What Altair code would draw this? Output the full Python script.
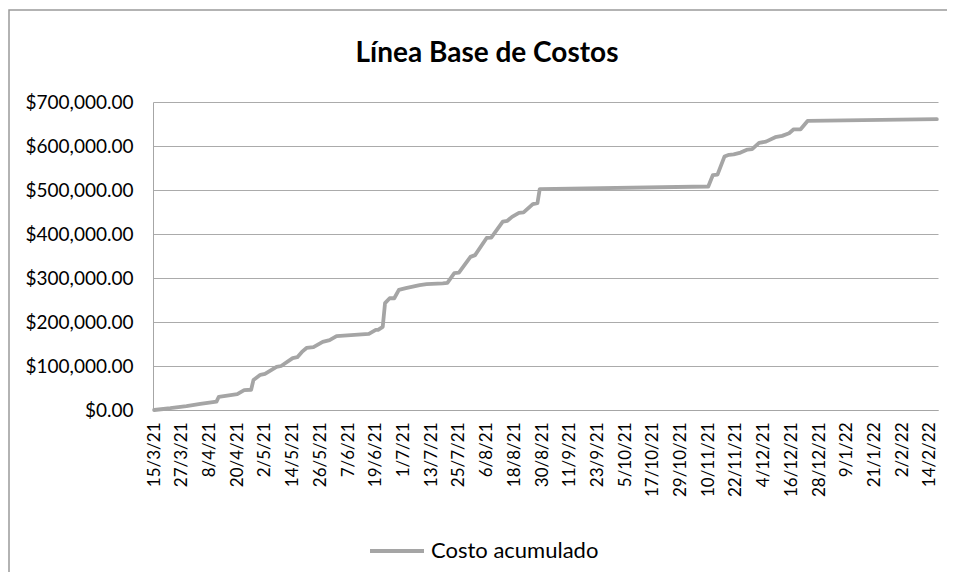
import altair as alt
import pandas as pd

# ---- data ----
fechas = [
    "2021-03-15", "2021-03-22", "2021-03-29", "2021-04-04", "2021-04-11", "2021-04-12",
    "2021-04-20", "2021-04-23", "2021-04-26", "2021-04-27", "2021-04-30", "2021-05-02",
    "2021-05-07", "2021-05-09", "2021-05-14", "2021-05-16", "2021-05-18", "2021-05-20",
    "2021-05-23", "2021-05-27", "2021-05-30", "2021-06-02", "2021-06-16", "2021-06-19",
    "2021-06-20", "2021-06-22", "2021-06-23", "2021-06-25", "2021-06-27", "2021-06-29",
    "2021-07-02", "2021-07-08", "2021-07-11", "2021-07-18", "2021-07-20", "2021-07-23",
    "2021-07-25", "2021-07-30", "2021-08-01", "2021-08-06", "2021-08-08", "2021-08-13",
    "2021-08-15", "2021-08-17", "2021-08-20", "2021-08-22", "2021-08-26", "2021-08-28",
    "2021-08-29", "2021-11-10", "2021-11-12", "2021-11-14", "2021-11-17", "2021-11-19",
    "2021-11-21", "2021-11-24", "2021-11-27", "2021-11-29", "2021-12-02", "2021-12-05",
    "2021-12-09", "2021-12-12", "2021-12-15", "2021-12-17", "2021-12-20", "2021-12-23",
    "2022-02-17",
]
costo = [
    0, 4000, 9000, 14000, 19000, 30000,
    36000, 45000, 46000, 68000, 80000, 82000,
    98000, 100000, 118000, 120000, 132000, 141000,
    143000, 155000, 159000, 168000, 173000, 182000,
    182000, 189000, 243000, 254000, 254000, 273000,
    277000, 284000, 286000, 288000, 289000, 311000,
    312000, 348000, 352000, 391000, 392000, 428000,
    430000, 439000, 448000, 449000, 468000, 470000,
    502000, 508000, 534000, 535000, 576000, 580000,
    581000, 585000, 592000, 593000, 607000, 610000,
    620000, 623000, 629000, 638000, 638000, 657000,
    661000,
]
serie = "Costo acumulado"
titulo = "Línea Base de Costos"

ticks_x = [
    "2021-03-15", "2021-03-27", "2021-04-08", "2021-04-20", "2021-05-02", "2021-05-14",
    "2021-05-26", "2021-06-07", "2021-06-19", "2021-07-01", "2021-07-13", "2021-07-25",
    "2021-08-06", "2021-08-18", "2021-08-30", "2021-09-11", "2021-09-23", "2021-10-05",
    "2021-10-17", "2021-10-29", "2021-11-10", "2021-11-22", "2021-12-04", "2021-12-16",
    "2021-12-28", "2022-01-09", "2022-01-21", "2022-02-02", "2022-02-14",
]
ticks_y = [0, 100000, 200000, 300000, 400000, 500000, 600000, 700000]
dominio_x = ["2021-03-14T12:00:00", "2022-02-17T12:00:00"]

def ms(s):
    return int(pd.Timestamp(s, tz="UTC").value // 10**6)

df = pd.DataFrame({"fecha": [ms(f) for f in fechas], "costo": costo, "serie": serie})

FONT = "Lato"
GRAY = "#A5A5A5"

linea = alt.Chart(df).mark_line(
    strokeWidth=3.8, strokeJoin="round", strokeCap="round"
).encode(
    x=alt.X(
        "fecha:T",
        scale=alt.Scale(type="utc", domain=[ms(d) for d in dominio_x]),
        axis=alt.Axis(
            values=[ms(t) for t in ticks_x],
            labelExpr="utcFormat(datum.value, '%-d/%-m/%y')",
            labelAngle=270, labelFontSize=17, labelPadding=12, ticks=False,
            grid=False, title=None, domainColor="#A6A6A6", labelColor="#000000",
            labelFont=FONT, labelOverlap=False, labelFlush=False,
        ),
    ),
    y=alt.Y(
        "costo:Q",
        scale=alt.Scale(domain=[0, 700000], nice=False),
        axis=alt.Axis(
            values=ticks_y, format="$,.2f", labelFontSize=19, labelPadding=20,
            ticks=False, grid=True, gridColor="#ABABAB", title=None,
            domainColor="#A6A6A6", labelColor="#000000", labelFont=FONT,
        ),
    ),
    color=alt.Color(
        "serie:N",
        scale=alt.Scale(range=[GRAY]),
        legend=alt.Legend(
            orient="none", legendX=215, legendY=420, title=None,
            symbolType="stroke", symbolSize=2916, symbolStrokeWidth=3.8,
            labelFontSize=22, labelFont=FONT, labelColor="#000000", labelOffset=5,
            labelLimit=0,
        ),
    ),
)

borde = alt.Chart(pd.DataFrame({"k": [0]})).mark_rect(
    filled=False, stroke="#9A9A9A", strokeWidth=1.5
).encode(
    x=alt.value(-144), x2=alt.value(900), y=alt.value(-92), y2=alt.value(600)
)

encabezado = alt.Chart(pd.DataFrame({"t": [titulo]})).mark_text(
    font=FONT, fontSize=28, fontWeight="bold", color="#000000",
    align="center", baseline="alphabetic",
).encode(x=alt.value(334), y=alt.value(-40), text="t:N")

chart = alt.layer(borde, linea, encabezado).properties(
    width=785,
    height=308,
    autosize=alt.AutoSizeParams(type="none"),
    padding={"left": 145, "top": 94, "right": 9, "bottom": 162},
).configure_view(stroke=None)

chart.save("out.html", embed_options={"renderer": "svg", "actions": False})
